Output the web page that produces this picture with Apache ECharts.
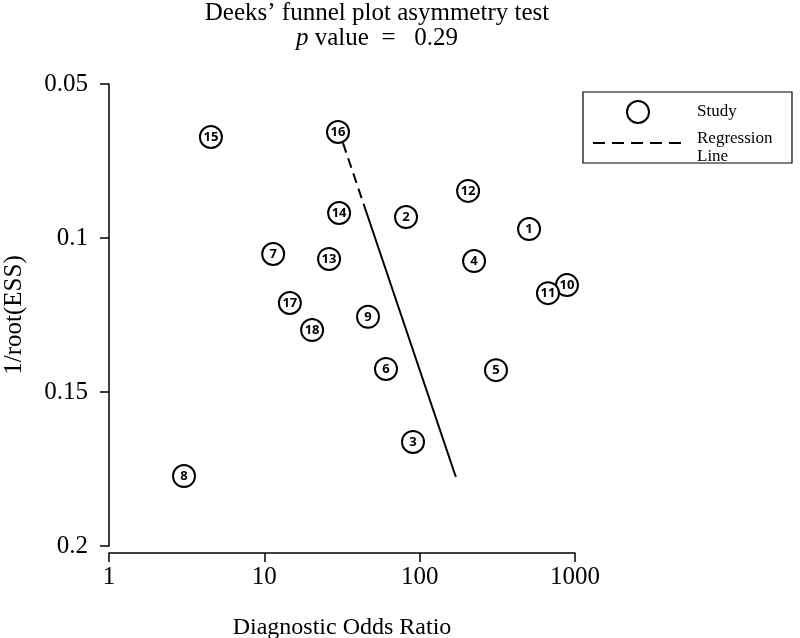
<!DOCTYPE html>
<html>
<head>
<meta charset="utf-8">
<script src="https://cdn.jsdelivr.net/npm/echarts@6/dist/echarts.min.js"></script>
<style>html,body{margin:0;padding:0;background:#fff}#c{width:800px;height:638px}</style>
</head>
<body>
<div id="c"></div>
<script>
var studyIds = [1,2,3,4,5,6,7,8,9,10,11,12,13,14,15,16,17,18];
var diagnosticOR = [506,81.7,90.6,224,310,60.7,11.4,3.04,46.5,888,670,205,26.1,30.3,4.53,29.8,14.6,20.3];
var invRootESS = [0.0971,0.0932,0.1662,0.1075,0.1429,0.1425,0.1052,0.1773,0.1256,0.1153,0.1179,0.0847,0.1068,0.0919,0.0672,0.0656,0.1211,0.1299];
var regDashedX = [32.1, 44.9];
var regDashedY = [0.0692, 0.0909];
var regSolidX = [44.9, 171];
var regSolidY = [0.0909, 0.1776];
var xTicks = [1, 10, 100, 1000];
var yTicks = [0.05, 0.1, 0.15, 0.2];

var serif = 'Liberation Serif';
var chart = echarts.init(document.getElementById('c'));
var pts = studyIds.map(function (id, i) { return { value: [diagnosticOR[i], invRootESS[i]], name: String(id) }; });
function pairs(xs, ys) { return xs.map(function (x, i) { return [x, ys[i]]; }); }

chart.setOption({
  animation: false,
  backgroundColor: '#fff',
  title: {
    text: 'Deeks\u2019 funnel plot asymmetry test\n{i|p} value  =   0.29',
    left: 372, top: -4, textAlign: 'center',
    textStyle: {
      fontFamily: serif, fontSize: 25, fontWeight: 'normal', color: '#000', lineHeight: 25,
      rich: { i: { fontFamily: serif, fontSize: 25, fontStyle: 'italic', color: '#000', lineHeight: 25 } }
    }
  },
  grid: { left: 109, right: 225, top: 84, bottom: 92, containLabel: false, outerBoundsMode: 'none' },
  xAxis: {
    type: 'log', logBase: 10, min: xTicks[0], max: xTicks[xTicks.length - 1],
    offset: 7,
    name: 'Diagnostic Odds Ratio', nameLocation: 'middle', nameGap: 63,
    nameTextStyle: { fontFamily: serif, fontSize: 24, color: '#000' },
    axisLine: { lineStyle: { color: '#000', width: 1.5 } },
    axisTick: { length: 9, lineStyle: { color: '#000', width: 1.5 } },
    minorTick: { show: false },
    axisLabel: {
      fontFamily: serif, fontSize: 25, color: '#000', margin: 12,
      formatter: function (v) { return String(Math.round(v)); }
    },
    splitLine: { show: false }
  },
  yAxis: {
    type: 'value', inverse: true, min: yTicks[0], max: yTicks[yTicks.length - 1], interval: 0.05,
    name: '1/root(ESS)', nameLocation: 'middle', nameGap: 82,
    nameTextStyle: { fontFamily: serif, fontSize: 25, color: '#000' },
    axisLine: { show: true, lineStyle: { color: '#000', width: 1.5 } },
    axisTick: { show: true, length: 9, lineStyle: { color: '#000', width: 1.5 } },
    axisLabel: {
      fontFamily: serif, fontSize: 25, color: '#000', margin: 21,
      formatter: function (v) { return String(Math.round(v * 100) / 100); }
    },
    splitLine: { show: false }
  },
  series: [
    {
      type: 'line', data: pairs(regDashedX, regDashedY), symbol: 'none', silent: true,
      lineStyle: { color: '#000', width: 2, type: [10, 6] }, z: 1
    },
    {
      type: 'line', data: pairs(regSolidX, regSolidY), symbol: 'none', silent: true,
      lineStyle: { color: '#000', width: 2, type: 'solid' }, z: 1
    },
    {
      type: 'scatter', data: pts, symbol: 'circle', symbolSize: 22, z: 3,
      itemStyle: { color: '#fff', borderColor: '#000', borderWidth: 2, opacity: 1 },
      label: {
        show: true, position: 'inside', formatter: '{b}',
        fontFamily: 'Open Sans', fontWeight: 'bold', fontSize: 13, color: '#000'
      }
    }
  ],
  graphic: [
    { type: 'rect', shape: { x: 583, y: 92, width: 209, height: 71 }, style: { fill: '#fff', stroke: '#000', lineWidth: 1.2 }, z: 10 },
    { type: 'circle', shape: { cx: 638, cy: 112, r: 11 }, style: { fill: 'none', stroke: '#000', lineWidth: 2 }, z: 11 },
    { type: 'text', x: 697, y: 112, style: { text: 'Study', fontFamily: serif, fontSize: 17, fill: '#000', verticalAlign: 'middle' }, z: 11 },
    { type: 'line', shape: { x1: 593, y1: 143, x2: 682, y2: 143 }, style: { stroke: '#000', lineWidth: 2, lineDash: [12, 7] }, z: 11 },
    { type: 'text', x: 697, y: 139, style: { text: 'Regression', fontFamily: serif, fontSize: 17, fill: '#000', verticalAlign: 'middle' }, z: 11 },
    { type: 'text', x: 697, y: 157, style: { text: 'Line', fontFamily: serif, fontSize: 17, fill: '#000', verticalAlign: 'middle' }, z: 11 }
  ]
});
</script>
</body>
</html>
